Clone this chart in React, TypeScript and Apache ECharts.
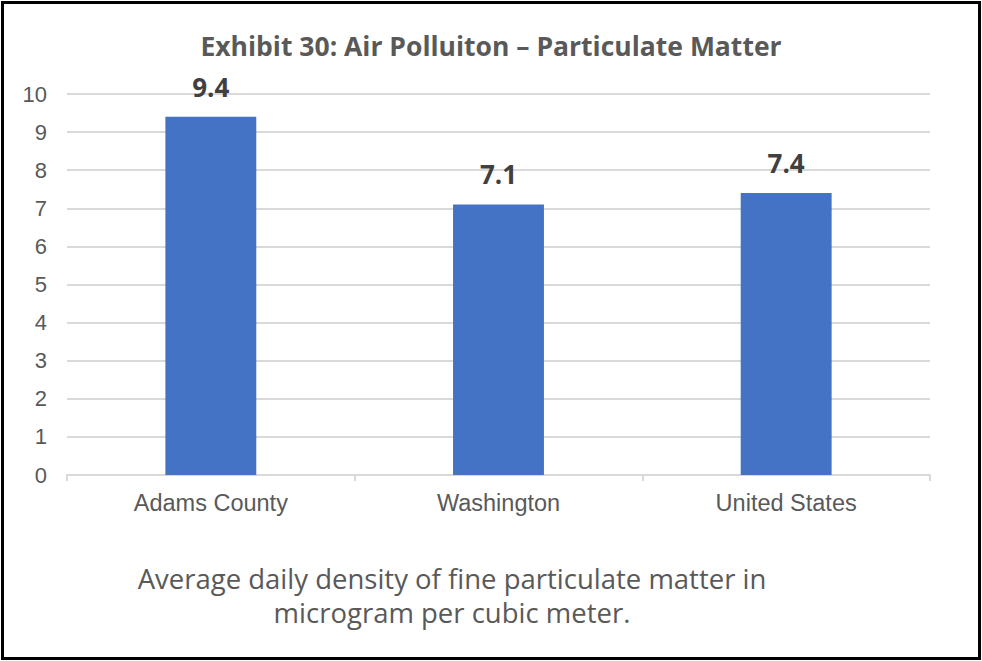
import React, { useEffect, useRef } from "react";
import * as echarts from "echarts";

const categories = ["Adams County", "Washington", "United States"];
const values = [9.4, 7.1, 7.4];
const yTicks = [0, 1, 2, 3, 4, 5, 6, 7, 8, 9, 10];
const titleText = "Exhibit 30: Air Polluiton \u2013 Particulate Matter";
const noteLines = [
  "Average daily density of fine particulate matter in",
  "microgram per cubic meter.",
];

export default function App() {
  const ref = useRef<HTMLDivElement>(null);
  useEffect(() => {
    const chart = echarts.init(ref.current!, null, { renderer: "svg" });
    chart.setOption({
      animation: false,
      backgroundColor: "#ffffff",
      title: {
        text: titleText,
        left: "center",
        top: 27,
        textStyle: {
          fontFamily: "Open Sans",
          fontWeight: "bold",
          fontSize: 26.5,
          color: "#595959",
        },
      },
      grid: { left: 67, right: 52, top: 94, bottom: 186 },
      xAxis: {
        type: "category",
        data: categories,
        axisLine: { lineStyle: { color: "#d9d9d9", width: 2 } },
        axisTick: { show: true, length: 6, lineStyle: { color: "#d9d9d9", width: 2 } },
        axisLabel: {
          fontFamily: "Liberation Sans",
          fontSize: 23.5,
          color: "#595959",
          margin: 16,
        },
      },
      yAxis: {
        type: "value",
        min: 0,
        max: 10,
        interval: 1,
        axisLine: { show: false },
        axisTick: { show: false },
        splitLine: { lineStyle: { color: "#d9d9d9", width: 2 } },
        axisLabel: {
          fontFamily: "Liberation Sans",
          fontSize: 22,
          color: "#595959",
          margin: 20,
          formatter: (v: number) => (yTicks.includes(v) ? String(v) : ""),
        },
      },
      series: [
        {
          type: "bar",
          data: values,
          barWidth: "31.6%",
          itemStyle: { color: "#4472C4" },
          label: {
            show: true,
            position: "top",
            distance: 17,
            fontFamily: "Open Sans",
            fontWeight: "bold",
            fontSize: 26,
            color: "#404040",
          },
        },
      ],
      graphic: [
        {
          type: "rect",
          shape: { x: 2.5, y: 2.5, width: 977, height: 656 },
          style: { fill: "none", stroke: "#000000", lineWidth: 3 },
          silent: true,
        },
        {
          type: "text",
          x: 452,
          y: 578,
          style: {
            text: noteLines[0],
            fontFamily: "Open Sans",
            fontSize: 27.5,
            fill: "#595959",
            align: "center",
            verticalAlign: "middle",
          },
        },
        {
          type: "text",
          x: 452,
          y: 612,
          style: {
            text: noteLines[1],
            fontFamily: "Open Sans",
            fontSize: 27.5,
            fill: "#595959",
            align: "center",
            verticalAlign: "middle",
          },
        },
      ],
    });
    return () => chart.dispose();
  }, []);
  return (
    <div
      ref={ref}
      style={{ position: "absolute", left: 0, top: 0, width: 982, height: 661 }}
    />
  );
}
